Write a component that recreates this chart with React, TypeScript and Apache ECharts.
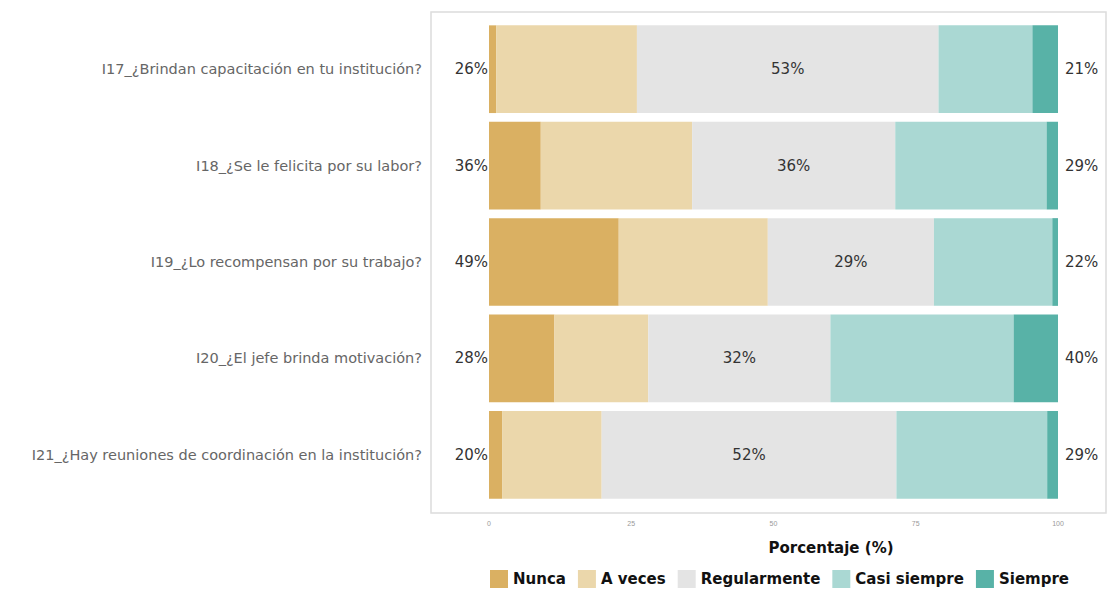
import React, { useEffect, useRef } from "react";
import * as echarts from "echarts";

const questions = [
  "I17_¿Brindan capacitación en tu institución?",
  "I18_¿Se le felicita por su labor?",
  "I19_¿Lo recompensan por su trabajo?",
  "I20_¿El jefe brinda motivación?",
  "I21_¿Hay reuniones de coordinación en la institución?",
];
const levels = ["Nunca", "A veces", "Regularmente", "Casi siempre", "Siempre"];
const nunca = [1.3, 9.1, 22.8, 11.5, 2.3];
const aVeces = [24.7, 26.6, 26.2, 16.5, 17.5];
const regularmente = [53.0, 35.7, 29.2, 32.0, 51.8];
const casiSiempre = [16.5, 26.6, 20.8, 32.2, 26.5];
const siempre = [4.5, 2.0, 1.0, 7.8, 1.9];
const lowPct = [26, 36, 49, 28, 20];
const midPct = [53, 36, 29, 32, 52];
const highPct = [21, 29, 22, 40, 29];
const xTicks = [0, 25, 50, 75, 100];
const colors = ["#DAB062", "#EBD7AB", "#E4E4E4", "#AAD8D3", "#58B2A7"];

export default function App() {
  const ref = useRef<HTMLDivElement>(null);
  useEffect(() => {
    if (!ref.current) return;
    const chart = echarts.init(ref.current, undefined, { renderer: "svg" });
    const seriesData = [nunca, aVeces, regularmente, casiSiempre, siempre];
    const labelStyle = { color: "#333", fontSize: 15, fontFamily: "DejaVu Sans" };
    const series: any[] = levels.map((name, i) => {
      const s: any = {
        name,
        type: "bar",
        stack: "total",
        barCategoryGap: "9%",
        data: seriesData[i],
        itemStyle: { color: colors[i] },
        label: { show: false },
        emphasis: { disabled: true },
      };
      if (i === 0) {
        s.label = {
          show: true,
          position: "left",
          distance: 1,
          ...labelStyle,
          formatter: (p: any) => lowPct[p.dataIndex] + "%",
        };
      } else if (i === 2) {
        s.label = {
          show: true,
          position: "inside",
          ...labelStyle,
          formatter: (p: any) => midPct[p.dataIndex] + "%",
        };
      } else if (i === 4) {
        s.label = {
          show: true,
          position: "right",
          distance: 7,
          ...labelStyle,
          formatter: (p: any) => highPct[p.dataIndex] + "%",
        };
      }
      return s;
    });
    chart.setOption({
      animation: false,
      backgroundColor: "#fff",
      grid: { left: 489, right: 49, top: 21, bottom: 88, containLabel: false },
      xAxis: {
        type: "value",
        min: 0,
        max: 100,
        interval: 25,
        axisLine: { show: false },
        axisTick: { show: false },
        splitLine: { show: false },
        axisLabel: {
          color: "#999",
          fontSize: 7,
          margin: 17,
          fontFamily: "Liberation Sans",
          formatter: (v: number) => (xTicks.includes(v) ? String(v) : ""),
        },
      },
      yAxis: {
        type: "category",
        inverse: true,
        data: questions,
        axisLine: { show: false },
        axisTick: { show: false },
        axisLabel: {
          color: "#666",
          fontSize: 14.5,
          margin: 67,
          fontFamily: "DejaVu Sans",
        },
      },
      legend: {
        data: levels,
        left: 485,
        top: 565,
        itemWidth: 18,
        itemHeight: 18,
        itemGap: 12,
        icon: "rect",
        textStyle: {
          color: "#111",
          fontSize: 15,
          fontWeight: "bold",
          fontFamily: "DejaVu Sans",
          padding: [0, 0, 0, 0],
        },
      },
      graphic: [
        {
          type: "rect",
          silent: true,
          z: -1,
          shape: { x: 431, y: 12, width: 675, height: 501 },
          style: { fill: "none", stroke: "#dcdcdc", lineWidth: 1.5 },
        },
        {
          type: "text",
          x: 831,
          y: 548,
          style: {
            text: "Porcentaje (%)",
            fill: "#111",
            fontSize: 15,
            fontWeight: "bold",
            fontFamily: "DejaVu Sans",
            align: "center",
            verticalAlign: "middle",
          },
        },
      ],
      series,
    });
    return () => chart.dispose();
  }, []);
  return <div ref={ref} style={{ width: 1107, height: 591, position: "absolute", left: 0, top: 0 }} />;
}
